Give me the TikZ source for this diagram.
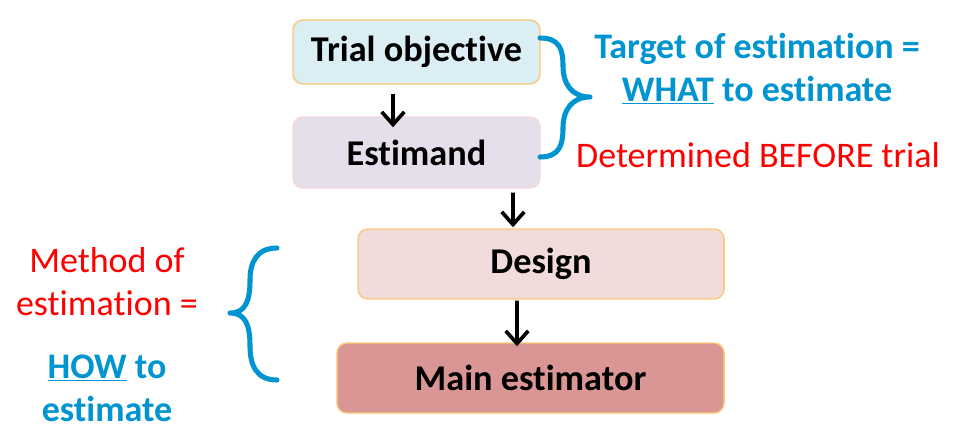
\documentclass[tikz,border=0pt]{standalone}
\usepackage{fontspec}
\setmainfont{Carlito}[Ligatures=NoCommon]
\usetikzlibrary{arrows.meta}

\definecolor{estblue}{RGB}{0,148,208}
\definecolor{estred}{RGB}{255,0,0}
\definecolor{objfill}{RGB}{218,238,243}
\definecolor{estfill}{RGB}{229,223,236}
\definecolor{desfill}{RGB}{242,220,219}
\definecolor{mainfill}{RGB}{217,150,148}
\definecolor{edgeorange}{RGB}{250,200,120}
\definecolor{edgepink}{RGB}{245,215,220}

\tikzset{
  box/.style={rounded corners=0.25cm,line width=1pt,draw=edgeorange,
    font=\fontsize{25.8}{30}\selectfont\bfseries,inner sep=0pt},
  arr/.style={line width=2.6pt,-{Straight Barb[length=9pt,width=16pt]}},
  bracefig/.style={line width=3.6pt,draw=estblue,line cap=round},
  note/.style={align=center,inner sep=0pt,font=\fontsize{25.6}{30.6}\selectfont}
}

\begin{document}
\begin{tikzpicture}[x=0.025cm,y=-0.025cm,line join=round]

  \useasboundingbox (0,0) rectangle (974,443);

  % ---- the four boxes -------------------------------------------------------
  \node[box,fill=objfill,minimum width=6.175cm,minimum height=1.6cm]
    (obj) at (416.5,52) {Trial objective};
  \node[box,fill=estfill,draw=edgepink,minimum width=6.175cm,minimum height=1.775cm]
    (est) at (416.5,152.5) {Estimand};
  \node[box,fill=desfill,minimum width=9.15cm,minimum height=1.75cm]
    (des) at (541,264) {Design};
  \node[box,fill=mainfill,minimum width=9.675cm,minimum height=1.75cm]
    (main) at (530.5,378) {Main estimator};

  % ---- arrows between the boxes ---------------------------------------------
  \draw[arr] ([xshift=-0.5875cm,yshift=-0.225cm]obj.south)
          -- ([xshift=-0.5875cm,yshift=-0.275cm]est.north);
  \draw[arr] ([xshift=2.4125cm,yshift=-0.1cm]est.south)
          -- ([xshift=-0.7cm,yshift=0.025cm]des.north);
  \draw[arr] ([xshift=-0.6cm,yshift=-0.025cm]des.south)
          -- ([xshift=-0.3375cm,yshift=-0.1cm]main.north);

  % ---- right brace: what to estimate ----------------------------------------
  \draw[bracefig] (540,38) .. controls (560,38) and (563,50) .. (563,66)
    .. controls (563,84) and (572,97) .. (590,97)
    .. controls (572,97) and (563,110) .. (563,128)
    .. controls (563,144) and (560,157) .. (540,157);

  % ---- left brace: how to estimate ------------------------------------------
  \draw[bracefig] (277,248) .. controls (257,248) and (250,262) .. (250,280)
    .. controls (250,300) and (246,313) .. (230,313)
    .. controls (246,313) and (250,326) .. (250,346)
    .. controls (250,366) and (257,380) .. (277,380);

  % ---- texts ----------------------------------------------------------------
  \node[note,text=estblue,font=\fontsize{25.6}{30.6}\selectfont\bfseries]
    (what) at (757,69) {Target of estimation =\\\underline{WHAT} to estimate};
  \node[note,text=estred] (before) at (758,155) {Determined BEFORE trial};
  \node[note,text=estred] (method) at (107,282) {Method of\\estimation =};
  \node[note,text=estblue,font=\fontsize{25.6}{30.6}\selectfont\bfseries]
    (how) at (107,388) {\underline{HOW} to\\estimate};

\end{tikzpicture}
\end{document}
